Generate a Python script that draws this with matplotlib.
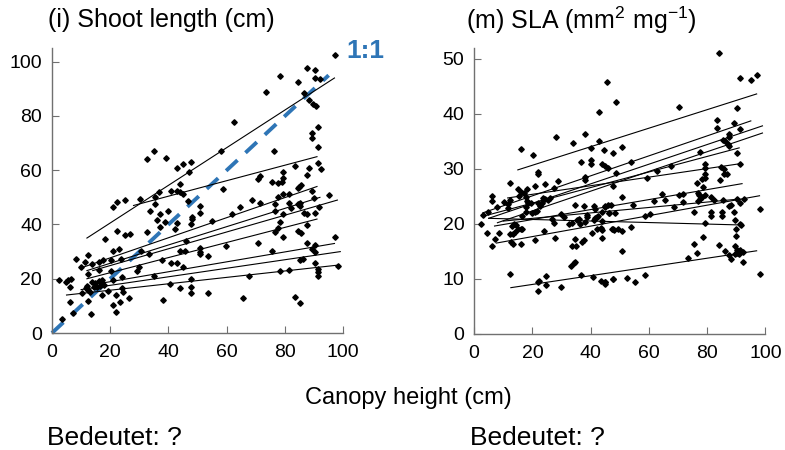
import matplotlib

matplotlib.use("Agg")
import matplotlib.pyplot as plt

plt.rcParams["font.family"] = ["Liberation Sans", "DejaVu Sans"]
plt.rcParams["mathtext.default"] = "regular"

# ---- panel (i): shoot length vs canopy height ----
shoot_x = [
    32.7, 35.2, 39, 42.9, 44.9, 47.8, 46.9, 44, 57.9,
    97.2, 87.4, 90.3, 78.4, 90.2, 92.2, 84.4, 73.6, 86.4, 88.3, 89.5, 90.5, 62.6, 91.3, 89.4, 89.3,
    76.4, 91.3, 83.4, 88.3, 91.3, 92.3, 87.4, 79.5, 79.3, 71.5, 70.7, 75.4, 77.5, 79, 58.6, 84.7, 85.5,
    45, 46.8, 50.8, 50.8, 48, 47.9, 54.8, 61.7, 64.6, 68.6, 71.5, 77.5, 79.4, 81.5, 84.4, 89.3, 95.2,
    90.1, 76.7, 81.5, 84.4, 85.3, 85.2, 91.6, 76.6, 79.4, 82.1, 86.7, 87.6, 90.3, 78.3, 77.5, 76.6,
    87.4, 84.4, 85.5, 79.4, 97.2, 70.6, 59.7, 87.4, 90.3, 89.3, 90.3, 75.4, 50.8, 50.8, 50.8, 53.7,
    45.6, 85.2, 86.2, 90.3, 91.3, 91.3, 91.3, 98.2, 45, 47.9, 67.7, 78.4, 81.5, 44.1, 47.9, 53.7,
    65.6, 83.4, 85.3,
    41, 43, 44.1, 36.7, 35.3, 30.1, 35.5, 22.3, 21.1, 25.2, 33.8, 39.9, 37, 36.1, 38.9, 43, 42.4,
    37.2, 32.7, 26.7, 25.2, 22.3, 18.3, 30.7, 33.2, 23.1, 20.9, 23.8, 20.3, 17.5, 16, 12.3, 8.3,
    11.4, 9.9, 13.7, 37.8, 29.2, 30, 40.9, 43, 34.9, 24, 20.3, 12.3, 16, 2.4, 4.8, 5.5, 6.6, 6.2,
    11.7, 12.3, 11.9, 13.8, 14.8, 16.1, 16.9, 17.3, 14.6, 15.5, 16.4, 12.9, 10.2, 17.7, 20.9, 24,
    24.4, 19.4, 22.1, 26.3, 17.1, 12.5, 6.2, 23.2, 20.9, 22.1, 13.3, 7.3, 3.4, 38, 40.7, 47.6,
    48.2, 45.9, 44.1,
]
shoot_y = [
    64.1, 67.2, 64.6, 61, 62.2, 63.2, 59.4, 55, 67.2,
    102.5, 97.5, 97, 94.8, 94.1, 93.6, 92.6, 88.9, 88.4, 86, 84.5, 83.8, 77.6, 75.9, 73.7, 72,
    67.2, 68.7, 61.4, 61, 62.5, 60.4, 58.3, 59.2, 57.3, 57.7, 56.9, 55.6, 55.2, 55.7, 53.2, 54, 54.5,
    51.3, 48.8, 46.9, 44.2, 42.9, 40.1, 41.2, 44, 46.6, 49.1, 48.1, 50.3, 51.3, 51.3, 53.3, 52.5, 50.8,
    49.7, 47.6, 48.1, 47.6, 48.1, 46.9, 46.4, 45.1, 43.8, 46, 44.2, 43.9, 44.2, 41.1, 38.6, 37.2,
    39.9, 37.6, 36.8, 35.5, 35.5, 33.3, 32.2, 33.3, 32.5, 30.9, 30, 30.1, 31.4, 30, 29, 28.2,
    30.3, 26.9, 27.2, 25.7, 23.5, 22.5, 21, 24.8, 24.2, 19.9, 21, 23, 23.2, 16.5, 14.9, 14.6,
    13, 13.4, 11,
    52.5, 52.4, 52.1, 52.1, 50.1, 49.4, 47.6, 48.2, 46.4, 49.1, 45, 45, 43.8, 41.7, 41.1, 40.4, 38.3,
    38.9, 37.2, 36.5, 36.2, 37.7, 34.7, 30.3, 29.2, 30.9, 30.4, 27.2, 26.9, 26.8, 26.3, 28.8, 27.2,
    26.3, 24.2, 25.5, 26.9, 23, 24.5, 25.9, 25.7, 21, 20.8, 23, 21.6, 23.2, 19.6, 18.8, 19.5, 19.8, 16.9,
    16.6, 15.8, 17.5, 18.9, 18.4, 19.3, 18.9, 19.6, 17.1, 16.8, 17.5, 15.2, 14.6, 17.7, 19.6, 16.6,
    15.2, 15.6, 14, 12.8, 14, 11.9, 11.5, 11.5, 10.3, 7.9, 6.9, 7.5, 5.1, 12.2, 18.1, 16.9,
    42, 34, 30.3,
]
# per-site fitted lines: x start, x end, y start, y end
shoot_fit_x0 = [12, 28, 10, 12, 14, 12, 15, 10, 5]
shoot_fit_x1 = [97, 91, 91, 92, 98, 91, 97, 99, 98]
shoot_fit_y0 = [35, 47, 24, 23, 23, 20, 18, 16, 14]
shoot_fit_y1 = [94, 65, 54, 50, 49, 42, 33, 30, 25]

# ---- panel (m): SLA vs canopy height ----
sla_x = [
    45.7, 48.7, 42.9, 28, 37.9, 33.9, 42.8, 16.1, 20.1, 40, 44.6, 47.7, 36.8, 40, 40, 43.9, 44.8,
    45.8, 22, 22, 28.9, 38, 38, 48.6, 12.2, 15.1, 18.2, 21, 24.3, 27.3,
    84.2, 91.3, 95.2, 97.1, 70.4, 90.2, 83.3, 89.3, 83.3, 91.3, 87.4, 87.4, 85.5, 86.3, 87, 87.4,
    90.1, 77.4, 50.7, 53.8, 91.3, 79.4, 79.4, 84.8, 85.9, 67.6, 62.8, 59.5, 79.3, 79.3, 78.4, 85.9,
    86.8, 84.5, 76.4, 78.5, 47.8,
    64.5, 70.5, 71.7, 76.7, 77.3, 78.1, 79.4, 81.3, 50.9, 61.6, 65.6, 71.6, 76.9, 77.5, 82.5, 85.4,
    90.4, 92.5, 91.4, 88.2, 87.6, 98, 68.5, 54.7, 46.9, 44.8, 46.2, 48.2, 75.4, 81.4, 81.4, 85.2,
    85.2, 89.2, 58.6, 60.3, 89.4, 79.4, 91.4, 91.6, 53.8, 47.8, 49.5, 50.9, 44, 90, 90, 78.5, 44,
    75.4, 84.2, 89.4, 90.2, 91.3, 90.4, 89.7, 90.8, 86.3, 92.3, 76.6, 87.4, 88.3, 73.6, 92.3, 50.7,
    98, 58.6, 52.4, 55.2, 47.8, 44.8, 44.8,
    6.3, 6.3, 8, 10.1, 4.9, 3.2, 2.3, 4.4, 6.1, 7.2, 8.4, 11.7, 12.3, 11.5, 15.5, 16, 17, 17.8,
    18.3, 19.4, 13.1, 13.7, 14.3, 12.4, 13.5, 14.1, 12.8, 13.4, 15.2, 16, 16.6, 16.3, 17.7, 17.9,
    18.4, 20, 20.9, 21.5, 22, 22.6, 23.2, 23.7, 24.3, 25.2, 26, 16.2, 21, 24.1, 27.9, 27.3, 26.8,
    29.7, 31, 32.5, 33.6, 33.6, 35, 33.4, 34.2, 34.5, 37, 37.6, 34.8, 35.2, 36.1, 36.3, 34.8, 37.7,
    38.9, 38.9, 37.9, 41, 41.6, 41, 41.5, 42.3, 42.7, 40.6, 42.3, 43.4, 44, 44.8, 46.1, 46.2, 44,
    47.2, 48.1, 12.4, 22, 22.3, 22, 24.8, 24.8, 29.9, 36.6, 40.8, 43.4, 45.1, 47.7,
]
sla_y = [
    45.7, 42.1, 40.4, 35.8, 36.4, 34.7, 35, 33.6, 32.5, 33.8, 33.5, 32.8, 31.3, 31.6, 30.9, 30.8, 30.5,
    30.2, 29.5, 29.1, 27.8, 28.5, 28, 29.2, 27.5, 26.4, 26.4, 26.9, 27.3, 26.5,
    51, 46.5, 46.1, 47, 41.3, 41, 38.8, 38.4, 37.4, 37.3, 36.4, 35.7, 35.3, 35, 34.5, 34.2,
    32.8, 33.1, 34, 31.3, 30.9, 30.8, 30.2, 30.4, 30, 30.5, 29.6, 28.4, 29, 28.4, 28.2, 29,
    29, 27.9, 27.4, 26.6, 26.8,
    25.4, 25.2, 25.4, 25.6, 25.2, 24.9, 25.2, 24.9, 24.8, 24.2, 24.3, 24, 24.2, 24.6, 24.3, 24.3,
    24.6, 24.6, 23.8, 23.5, 23.2, 22.7, 23.1, 23.4, 23.4, 23, 21.9, 21.9, 22.2, 22.1, 21.5, 22.1,
    21.5, 22.1, 21.5, 21.8, 20.7, 20.2, 20, 19.8, 19.5, 19.1, 19.1, 18.7, 18.9, 19, 17.8, 17.6, 17.4,
    16.3, 16.2, 16, 15.3, 15.3, 14.7, 14.6, 14.6, 15.1, 14.8, 14.7, 14.4, 13.6, 13.8, 13, 15.1,
    10.9, 10.7, 10.2, 9.4, 9.9, 9.4, 9.1,
    25.1, 24.1, 23.1, 23.9, 22.2, 21.6, 19.9, 18.3, 16, 17.3, 18.4, 23.6, 24.3, 22.8, 25, 25.8, 25.6, 24.8,
    24.1, 23.8, 19.6, 19.9, 19.7, 18.2, 18.2, 18.5, 16.7, 16.4, 19.1, 19, 19.1, 21.5, 22.1, 23.1,
    23.7, 22, 22.1, 22.3, 23.8, 23.3, 23.8, 24.7, 24.5, 24.4, 24.7, 16.4, 17, 18.7, 17.5, 20.1, 20.9,
    21.8, 21.3, 20, 20.2, 16, 16, 12.4, 12.9, 13.1, 16.7, 17, 17.2, 20.7, 20.8, 19.9, 23.5, 23.3,
    21.6, 21.3, 20.4, 23.3, 22.7, 20.7, 21, 21.3, 21.5, 18.4, 19, 19.3, 22.2, 23.3, 23.4, 21.9, 20.5,
    19.1, 18.9, 10.8, 9.5, 9.6, 7.8, 10.5, 8.9, 8.5, 10.7, 10.4, 9.6, 9.5, 10,
]
sla_fit_x0 = [15, 3, 5, 8, 4, 11.5, 7, 7.6, 10, 5, 12.6]
sla_fit_x1 = [97, 95, 99, 99, 91, 91, 92, 98, 91, 91, 97]
sla_fit_y0 = [29.8, 22.0, 21.0, 20.2, 21.5, 24.7, 19.6, 16.5, 20.5, 21.0, 8.4]
sla_fit_y1 = [43.6, 38.7, 37.8, 36.5, 33.8, 30.9, 27.3, 25.1, 24.5, 19.8, 15.1]

BLUE = "#2E75B6"
SPINE = "#707070"


def style_axis(ax, ymax, yticks):
    ax.set_xlim(0, 100)
    ax.set_ylim(0, ymax)
    ax.set_xticks([0, 20, 40, 60, 80, 100])
    ax.set_yticks(yticks)
    for side in ("top", "right"):
        ax.spines[side].set_visible(False)
    for side in ("left", "bottom"):
        ax.spines[side].set_color(SPINE)
        ax.spines[side].set_linewidth(1.0)
    ax.tick_params(direction="in", length=5, color=SPINE, labelsize=14)
    ax.tick_params(axis="y", pad=7)
    ax.tick_params(axis="x", pad=8)


fig = plt.figure(figsize=(7.85, 4.5), dpi=100)
ax1 = fig.add_axes([0.0662, 0.26, 0.371, 0.633])
ax2 = fig.add_axes([0.604, 0.258, 0.371, 0.636])

ax1.plot([0, 95], [0, 95], color=BLUE, lw=2.8, dashes=(4, 2.8), zorder=1, clip_on=False)
for x0, x1, y0, y1 in zip(shoot_fit_x0, shoot_fit_x1, shoot_fit_y0, shoot_fit_y1):
    ax1.plot([x0, x1], [y0, y1], color="black", lw=0.8, zorder=2)
ax1.plot(shoot_x, shoot_y, "D", color="black", ms=2.8, zorder=3, clip_on=False)
ax1.text(101, 104, "1:1", color=BLUE, fontsize=19, fontweight="bold", ha="left", va="center")
style_axis(ax1, 105, [0, 20, 40, 60, 80, 100])

for x0, x1, y0, y1 in zip(sla_fit_x0, sla_fit_x1, sla_fit_y0, sla_fit_y1):
    ax2.plot([x0, x1], [y0, y1], color="black", lw=0.8, zorder=2)
ax2.plot(sla_x, sla_y, "D", color="black", ms=2.8, zorder=3, clip_on=False)
style_axis(ax2, 52, [0, 10, 20, 30, 40, 50])

fig.text(48 / 785, 1 - 20 / 450, "(i) Shoot length (cm)", fontsize=18, va="center")
fig.text(466 / 785, 1 - 20 / 450, "(m) SLA (mm$^2$ mg$^{-1}$)", fontsize=18, va="center")
fig.text(408 / 785, 1 - 398 / 450, "Canopy height (cm)", fontsize=17, ha="center", va="center")
fig.text(47 / 785, 1 - 438 / 450, "Bedeutet: ?", fontsize=19, va="center")
fig.text(470 / 785, 1 - 438 / 450, "Bedeutet: ?", fontsize=19, va="center")

fig.savefig("out.png", dpi=100)
